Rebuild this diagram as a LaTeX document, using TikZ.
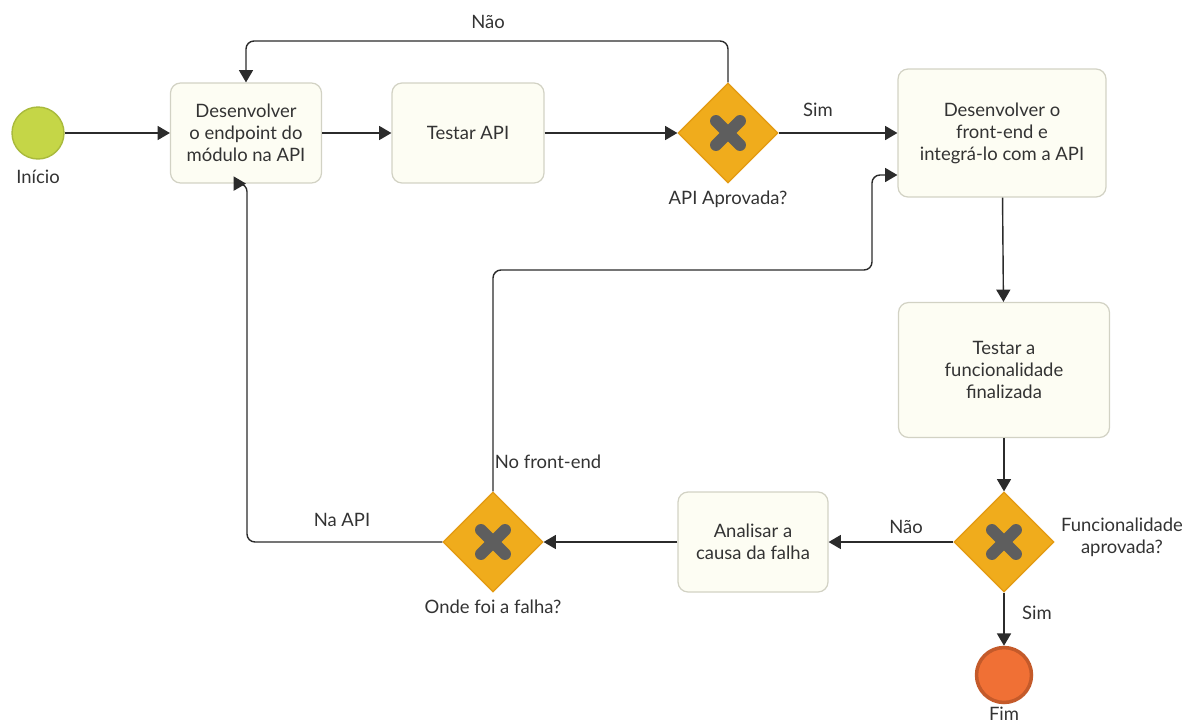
\documentclass[tikz,border=0pt]{standalone}
\usepackage{fontspec}
\setmainfont{Lato}
\usetikzlibrary{shapes.geometric,arrows.meta,calc}
\definecolor{txt}{HTML}{333333}
\definecolor{taskfill}{HTML}{FDFDF3}
\definecolor{taskdraw}{HTML}{D2D2C4}
\definecolor{gwfill}{HTML}{F0AC1C}
\definecolor{gwdraw}{HTML}{E39A12}
\definecolor{xmark}{HTML}{5E5E5E}
\definecolor{startfill}{HTML}{C5D647}
\definecolor{startdraw}{HTML}{A9BA3C}
\definecolor{endfill}{HTML}{F07035}
\definecolor{enddraw}{HTML}{C45A2A}
\definecolor{line}{HTML}{2B2B2B}
\tikzset{
  every node/.style={font=\fontsize{10.5}{12.5}\selectfont, text=txt},
  taskbox/.style={draw=taskdraw, fill=taskfill, rounded corners=0.2cm, line width=0.7pt, align=center, inner sep=2pt},
  gateway/.style={diamond, draw=gwdraw, fill=gwfill, line width=0.7pt, minimum width=2cm, minimum height=2cm, inner sep=0pt, aspect=1},
  flow/.style={draw=line, line width=0.8pt, rounded corners=0.16cm, -{Triangle[length=7pt,width=8pt]}},
  lbl/.style={inner sep=1pt, align=center},
}
\newcommand{\xmark}[1]{%
  \draw[xmark, line width=6.8pt, line cap=round] ($(#1)+(-12,-12)$) -- ($(#1)+(12,12)$);
  \draw[xmark, line width=6.8pt, line cap=round] ($(#1)+(-12,12)$) -- ($(#1)+(12,-12)$);}
\begin{document}
\begin{tikzpicture}[x=0.02cm, y=-0.02cm]
\useasboundingbox (0,0) rectangle (1197,724);
% events
\node[circle, draw=startdraw, fill=startfill, line width=0.8pt, minimum size=1.04cm, inner sep=0pt] (start) at (38,133) {};
\node[lbl] (startl) at (38,177) {Início};
\node[circle, draw=enddraw, fill=endfill, line width=2pt, minimum size=1.1cm, inner sep=0pt] (fim) at (1004,675) {};
\node[lbl] (fiml) at (1004,714) {Fim};
% tasks
\node[taskbox, minimum width=3.02cm, minimum height=2cm] (t1) at (246,133) {Desenvolver\\o endpoint do\\módulo na API};
\node[taskbox, minimum width=3.04cm, minimum height=2cm] (t2) at (468,133) {Testar API};
\node[taskbox, minimum width=4.16cm, minimum height=2.56cm] (t3) at (1002,133) {Desenvolver o\\front-end e\\integrá-lo com a API};
\node[taskbox, minimum width=4.22cm, minimum height=2.7cm] (t4) at (1004,370) {Testar a\\funcionalidade\\finalizada};
\node[taskbox, minimum width=3.0cm, minimum height=2cm] (t5) at (753,542) {Analisar a\\causa da falha};
% gateways
\node[gateway] (g1) at (728,133) {};
\node[gateway] (g2) at (1004,542) {};
\node[gateway] (g3) at (493,542) {};
\xmark{g1}
\xmark{g2}
\xmark{g3}
\node[lbl] (g1l) at (728,199) {API Aprovada?};
\node[lbl] (g2l) at (1122,537) {Funcionalidade\\aprovada?};
\node[lbl] (g3l) at (493,607) {Onde foi a falha?};
% helper coordinates
\coordinate (ytop) at (0,41);
\coordinate (yfe) at (0,270);
\coordinate (xfe) at (872,0);
\coordinate (t3in) at (0,175);
\coordinate (xna) at (247,0);
% flows
\draw[flow] (start) -- (t1);
\draw[flow] (t1) -- (t2);
\draw[flow] (t2) -- (g1);
\draw[flow] (g1) -- (t3);
\draw[flow] (g1.north) -- (g1.north |- ytop) -- (t1.north |- ytop) -- (t1.north);
\draw[flow] (t3) -- (t4);
\draw[flow] (t4) -- (g2);
\draw[flow] (g2) -- (fim);
\draw[flow] (g2) -- (t5);
\draw[flow] (t5) -- (g3);
\draw[flow] (g3.west) -- (xna |- g3.west) -- (xna |- t1.south) -- (t1.south);
\draw[flow] (g3.north) -- (g3.north |- yfe) -- (xfe |- yfe) -- (xfe |- t3in) -- (t3.west |- t3in);
% flow labels
\node[lbl] (l1) at (488,22) {Não};
\node[lbl] (l2) at (818,110) {Sim};
\node[lbl] (l3) at (342,520) {Na API};
\node[lbl] (l4) at (548,462) {No front-end};
\node[lbl] (l5) at (906,527) {Não};
\node[lbl] (l6) at (1037,613) {Sim};
\end{tikzpicture}
\end{document}
